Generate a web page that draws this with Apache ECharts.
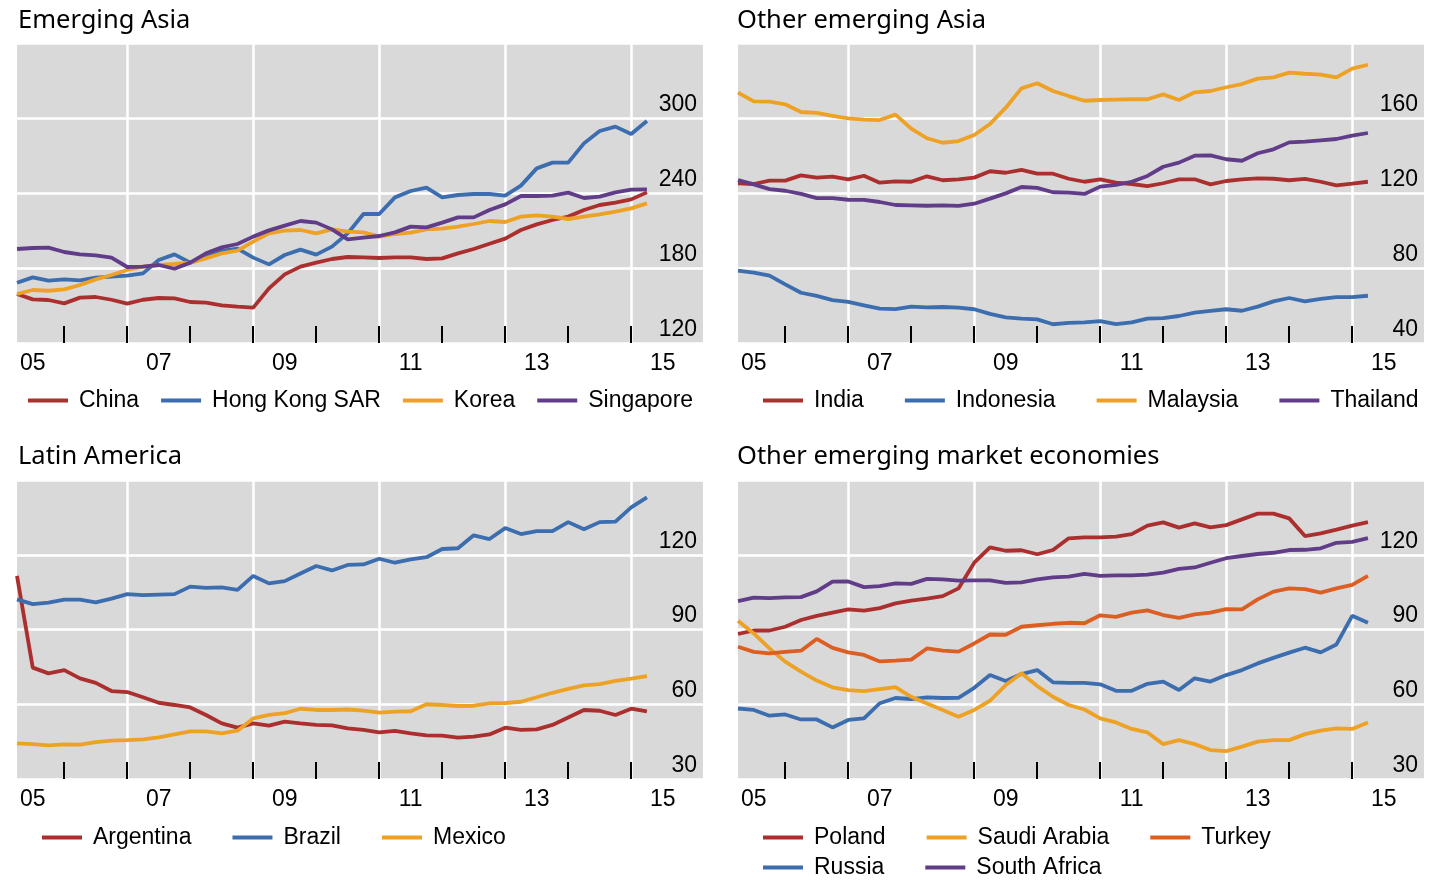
<!DOCTYPE html>
<html><head><meta charset="utf-8">
<script src="https://cdn.jsdelivr.net/npm/echarts@6/dist/echarts.min.js"></script>
<style>html,body{margin:0;padding:0;background:#fff}#c{width:1443px;height:883px}</style>
</head><body><div id="c"></div>
<script>
// Quarterly observations (plotted at quarter end)
const quarters = ['2005Q1','2005Q2','2005Q3','2005Q4','2006Q1','2006Q2','2006Q3','2006Q4',
  '2007Q1','2007Q2','2007Q3','2007Q4','2008Q1','2008Q2','2008Q3','2008Q4',
  '2009Q1','2009Q2','2009Q3','2009Q4','2010Q1','2010Q2','2010Q3','2010Q4',
  '2011Q1','2011Q2','2011Q3','2011Q4','2012Q1','2012Q2','2012Q3','2012Q4',
  '2013Q1','2013Q2','2013Q3','2013Q4','2014Q1','2014Q2','2014Q3','2014Q4','2015Q1'];

const xTickYears = [2006,2007,2008,2009,2010,2011,2012,2013,2014,2015];
const xGridYears = [2007,2009,2011,2013,2015];
const xLabelYears = [2005,2007,2009,2011,2013,2015];
const xTickLabels = ['05','07','09','11','13','15'];

// Emerging Asia
const china = [159.2,154.9,154.4,151.7,156.3,156.8,154.6,151.5,154.6,156.0,155.7,152.8,152.3,150.1,149.1,148.3,163.7,174.9,181.1,184.3,187.2,188.8,
  188.5,188.0,188.5,188.5,187.2,187.7,191.7,195.2,199.4,203.5,210.4,214.9,218.4,221.1,226.4,230.4,232.3,234.9,240.5];
const hongKong = [168.2,172.5,169.9,170.9,170.1,172.3,173.1,173.9,175.7,186.4,190.9,184.3,188.5,193.6,195.5,188.3,182.9,190.4,194.7,190.7,197.1,207.7,
  223.2,223.2,236.5,241.6,244.3,236.5,238.4,239.2,239.2,237.9,245.9,259.7,264.3,264.3,279.7,289.6,293.1,287.2,297.6];
const korea = [159.2,162.4,161.8,162.9,166.4,170.9,174.4,178.4,181.1,182.4,183.2,184.3,187.7,191.7,193.9,201.1,207.7,209.9,210.4,207.7,210.9,209.1,
  208.5,205.1,207.2,208.3,210.9,211.5,213.1,215.2,217.6,216.8,221.1,222.1,221.1,219.2,221.1,222.9,225.1,227.7,231.7];
const singapore = [195.2,196.0,196.3,192.8,190.9,190.1,188.3,180.8,181.1,182.4,179.4,184.3,191.7,196.5,199.2,205.1,210.1,213.9,217.6,216.3,210.9,202.9,
  204.3,205.6,208.5,213.1,212.5,216.3,220.5,220.5,226.4,230.9,237.6,237.6,237.9,240.3,236.0,237.1,240.5,242.7,242.9];

// Other emerging Asia
const india = [125.2,124.8,126.6,126.6,129.4,128.2,128.7,127.3,129.2,125.5,126.2,126.0,128.9,126.8,127.3,128.2,131.6,130.8,132.3,130.3,130.3,127.6,
  126.0,127.3,125.5,124.8,123.7,125.2,127.3,127.3,124.6,126.4,127.3,127.8,127.6,126.8,127.5,126.0,124.1,125.0,126.0];
const indonesia = [78.6,77.5,75.9,71.3,66.8,65.1,62.9,61.9,60.1,58.3,58.1,59.4,59.0,59.2,58.9,58.0,55.5,53.7,53.0,52.6,50.0,50.7,
  51.0,51.7,50.1,51.0,53.0,53.3,54.4,56.2,57.1,58.0,57.2,59.4,62.2,64.0,62.2,63.5,64.5,64.5,65.2];
const malaysia = [173.5,168.9,168.7,167.3,163.2,162.7,161.1,159.8,159.1,158.9,161.8,154.3,149.2,146.8,147.7,150.9,156.8,165.5,175.8,178.5,174.4,171.7,
  169.2,169.6,169.8,170.0,170.0,172.6,169.6,173.7,174.4,176.4,178.1,181.0,181.7,184.2,183.6,183.1,181.7,186.3,188.4];
const thailand = [126.9,124.6,122.1,121.2,119.5,117.3,117.3,116.4,116.3,115.2,113.6,113.4,113.2,113.4,113.1,114.3,117.0,119.8,123.2,122.7,120.4,120.2,
  119.5,123.4,124.3,126.0,129.1,134.0,136.2,139.9,140.1,138.0,137.2,141.2,143.3,147.0,147.4,148.1,148.8,150.6,152.0];

// Latin America
const argentina = [111.5,74.7,72.4,73.7,70.4,68.6,65.3,64.9,62.8,60.6,59.7,58.7,55.7,52.3,50.6,52.3,51.4,53.0,52.3,51.7,51.5,50.3,
  49.7,48.7,49.3,48.3,47.5,47.4,46.6,47.0,47.9,50.6,49.7,49.9,51.7,54.7,57.7,57.4,55.7,58.2,57.1];
const brazil = [102.1,100.2,100.8,102.0,102.0,100.9,102.4,104.2,103.8,104.0,104.2,107.2,106.7,106.9,105.9,111.5,108.5,109.4,112.5,115.5,113.7,115.9,
  116.1,118.4,116.8,118.1,119.0,122.3,122.6,127.8,126.3,130.7,128.3,129.5,129.5,133.1,130.2,133.1,133.3,139.0,143.0];
const mexico = [44.3,44.0,43.5,43.9,43.8,44.8,45.4,45.6,45.9,46.7,47.9,49.1,49.1,48.3,49.4,54.3,55.7,56.4,58.2,57.7,57.7,57.9,
  57.4,56.6,57.0,57.2,60.0,59.7,59.3,59.4,60.4,60.5,61.0,62.8,64.6,66.2,67.6,68.1,69.4,70.3,71.3];

// Other emerging market economies
const poland = [88.2,89.6,89.6,91.1,93.8,95.5,96.8,98.1,97.6,98.6,100.5,101.6,102.4,103.4,106.5,116.8,123.0,121.6,121.8,120.2,121.9,126.6,
  127.0,127.0,127.3,128.3,131.7,133.0,130.9,132.6,131.0,131.9,134.2,136.5,136.5,134.6,127.5,128.6,130.1,131.7,133.1];
const saudiArabia = [93.5,88.4,82.4,77.1,73.1,69.5,66.8,65.7,65.3,66.1,66.9,63.0,60.3,57.7,55.0,57.7,61.4,67.7,72.4,67.3,63.0,59.7,
  57.9,54.3,52.7,50.1,48.7,44.0,45.6,44.0,41.6,41.2,43.0,45.0,45.6,45.6,48.0,49.4,50.3,50.1,52.7];
const turkey = [83.1,81.0,80.4,81.0,81.5,86.2,82.6,80.8,79.8,77.2,77.5,77.9,82.4,81.5,81.1,84.4,88.0,87.9,91.1,91.7,92.3,92.7,
  92.5,95.7,95.1,96.8,97.7,95.8,94.7,96.1,96.8,98.2,98.1,102.1,105.2,106.5,106.2,104.8,106.5,107.9,111.5];
const russia = [58.3,57.7,55.4,55.9,53.9,53.9,50.7,53.7,54.3,60.4,62.5,62.1,62.8,62.5,62.6,66.6,71.7,69.3,72.1,73.7,68.8,68.6,
  68.6,68.0,65.4,65.4,68.2,69.1,65.7,70.4,69.1,71.7,73.7,76.4,78.6,80.7,82.7,80.8,84.0,95.5,92.7];
const southAfrica = [101.4,102.8,102.6,102.9,103.0,105.3,109.2,109.3,107.0,107.4,108.5,108.3,110.3,110.1,109.6,109.7,109.7,108.7,108.9,110.1,110.9,111.2,
  112.3,111.5,111.7,111.7,112.0,112.8,114.3,114.9,116.8,118.6,119.5,120.3,120.8,121.9,122.0,122.6,124.8,125.2,126.7];

// ---- styling / layout ----
const RED = '#AB2F2E', BLUE = '#3B6DAF', ORANGE = '#EEA225', PURPLE = '#613C88', TURKEY = '#DD5E22';
const ARIAL = '"Liberation Sans", Arial, sans-serif';
const TITLEFONT = '"Noto Sans", "Open Sans", sans-serif';
const XMIN = 2005.25, XMAX = 2016.14;

function qPos(q) { return Number(q.slice(0, 4)) + Number(q.slice(5)) / 4; }
function pairs(vals) { return vals.map((v, i) => [qPos(quarters[i]), v]); }

const panels = [
  { title: 'Emerging Asia', tLeft: 18, tTop: 8, left: 17, top: 43, height: 300, ymin: 120, ymax: 360, yint: 60,
    series: [['China', china, RED], ['Hong Kong SAR', hongKong, BLUE], ['Korea', korea, ORANGE], ['Singapore', singapore, PURPLE]],
    legends: [{ left: 28, top: 389, gap: 22, names: ['China', 'Hong Kong SAR', 'Korea', 'Singapore'] }] },
  { title: 'Other emerging Asia', tLeft: 737, tTop: 8, left: 738, top: 43, height: 300, ymin: 40, ymax: 200, yint: 40,
    series: [['India', india, RED], ['Indonesia', indonesia, BLUE], ['Malaysia', malaysia, ORANGE], ['Thailand', thailand, PURPLE]],
    legends: [{ left: 763, top: 389, gap: 41, names: ['India', 'Indonesia', 'Malaysia', 'Thailand'] }] },
  { title: 'Latin America', tLeft: 18, tTop: 444, left: 17, top: 480, height: 299, ymin: 30, ymax: 150, yint: 30,
    series: [['Argentina', argentina, RED], ['Brazil', brazil, BLUE], ['Mexico', mexico, ORANGE]],
    legends: [{ left: 42, top: 826, gap: 41, names: ['Argentina', 'Brazil', 'Mexico'] }] },
  { title: 'Other emerging market economies', tLeft: 737, tTop: 444, left: 738, top: 480, height: 299, ymin: 30, ymax: 150, yint: 30,
    series: [['Poland', poland, RED], ['Russia', russia, BLUE], ['Saudi Arabia', saudiArabia, ORANGE], ['Turkey', turkey, TURKEY], ['South Africa', southAfrica, PURPLE]],
    legends: [{ left: 763, top: 826, gap: 41, names: ['Poland', 'Saudi Arabia', 'Turkey'] },
              { left: 763, top: 856, gap: 41, names: ['Russia', 'South Africa'] }] }
];

const option = { animation: false, backgroundColor: '#fff', title: [], grid: [], xAxis: [], yAxis: [], legend: [], series: [] };

panels.forEach((p, g) => {
  option.title.push({ text: p.title, left: p.tLeft, top: p.tTop, padding: 0,
    textStyle: { fontFamily: TITLEFONT, fontSize: 25.5, fontWeight: 'normal', color: '#000' } });
  option.grid.push({ left: p.left, top: p.top, width: 686, height: p.height, show: true,
    backgroundColor: '#D9D9D9', borderWidth: 0, containLabel: false });
  // tick + label axis
  option.xAxis.push({ type: 'value', gridIndex: g, position: 'bottom', min: XMIN, max: XMAX,
    axisLine: { show: false },
    axisTick: { show: true, inside: true, length: 17, lineStyle: { color: '#000', width: 2 }, customValues: xTickYears },
    axisLabel: { show: true, customValues: xLabelYears.map(y => y + 0.5), margin: 9,
      formatter: v => xTickLabels[xLabelYears.indexOf(Math.round(v - 0.5))],
      fontFamily: ARIAL, fontSize: 23, color: '#000' },
    splitLine: { show: false } });
  // grid-line axis
  option.xAxis.push({ type: 'value', gridIndex: g, position: 'top', min: XMIN, max: XMAX,
    axisLine: { show: false }, axisLabel: { show: false },
    axisTick: { show: false, customValues: xGridYears },
    splitLine: { show: true, lineStyle: { color: '#fff', width: 2.5 } } });
  option.yAxis.push({ type: 'value', gridIndex: g, position: 'right', min: p.ymin, max: p.ymax, interval: p.yint,
    axisLine: { show: false }, axisTick: { show: false },
    splitLine: { show: true, lineStyle: { color: '#fff', width: 2.5 } },
    axisLabel: { inside: true, margin: 6, align: 'right', verticalAlign: 'bottom', showMaxLabel: false, showMinLabel: true,
      padding: [0, 0, 2, 0], fontFamily: ARIAL, fontSize: 23, color: '#000' } });
  p.series.forEach(([name, vals, col]) => {
    option.series.push({ name, type: 'line', xAxisIndex: 2 * g, yAxisIndex: g, data: pairs(vals),
      showSymbol: false, symbol: 'none', smooth: false, color: col,
      itemStyle: { color: col }, lineStyle: { color: col, width: 3.8 }, z: 3 });
  });
  p.legends.forEach(l => {
    option.legend.push({ left: l.left, top: l.top, padding: 0, itemGap: l.gap, icon: 'rect', itemWidth: 40, itemHeight: 4,
      selectedMode: false, data: l.names,
      textStyle: { fontFamily: ARIAL, fontSize: 23, color: '#000', padding: [0, 0, 0, 6] } });
  });
});

const chart = echarts.init(document.getElementById('c'));
chart.setOption(option);
</script>
</body></html>
